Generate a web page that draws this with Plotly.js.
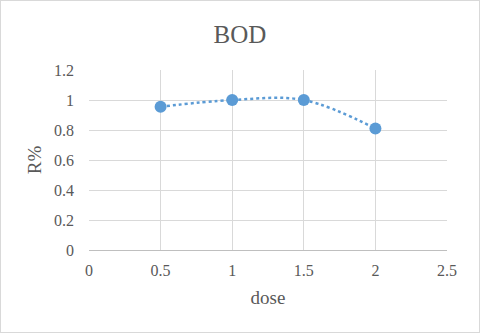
<!DOCTYPE html>
<html>
<head>
<meta charset="utf-8">
<script src="https://cdn.plot.ly/plotly-3.0.1.min.js"></script>
<style>
  body { margin: 0; background: #fff; }
  #chart { width: 478px; height: 331px; border: 1px solid #d9d9d9; }
</style>
</head>
<body>
<div id="chart"></div>
<script>
var dose = [0.5, 1, 1.5, 2];
var removal = [0.955, 1.0, 1.0, 0.81];
var xTicks = [0, 0.5, 1, 1.5, 2, 2.5];
var yTicks = [0, 0.2, 0.4, 0.6, 0.8, 1, 1.2];

var textColor = '#595959';
var gridColor = '#d9d9d9';
var serif = 'Liberation Serif';

var trace = {
    x: dose,
    y: removal,
    mode: 'lines+markers',
    line: { color: '#5b9bd5', width: 2.5, dash: 'dot', shape: 'spline', smoothing: 1 },
    marker: { color: '#5b9bd5', size: 12 },
    hoverinfo: 'none'
};

var layout = {
    width: 478,
    height: 331,
    margin: { l: 88, r: 32, t: 69, b: 82 },
    paper_bgcolor: '#fff',
    plot_bgcolor: '#fff',
    showlegend: false,
    font: { family: serif, color: textColor, size: 16 },
    title: {
        text: 'BOD',
        font: { family: serif, size: 25, color: textColor },
        x: 0.5, xanchor: 'center',
        y: 0.9, yanchor: 'middle', yref: 'container'
    },
    xaxis: {
        range: [0, 2.5],
        tickvals: xTicks,
        ticktext: xTicks.map(String),
        showgrid: true,
        gridcolor: gridColor,
        gridwidth: 1,
        zeroline: false,
        showline: true,
        linecolor: '#bfbfbf',
        linewidth: 1,
        ticks: '',
        ticklabelstandoff: 6,
        tickfont: { family: serif, size: 16, color: textColor },
        title: { text: 'dose', font: { family: serif, size: 19, color: textColor }, standoff: 12 },
        fixedrange: true
    },
    yaxis: {
        range: [0, 1.2],
        tickvals: yTicks,
        ticktext: yTicks.map(String),
        showgrid: true,
        gridcolor: gridColor,
        gridwidth: 1,
        zeroline: false,
        showline: false,
        ticks: '',
        ticklabelstandoff: 14,
        tickfont: { family: serif, size: 16, color: textColor },
        title: { text: 'R%', font: { family: serif, size: 19, color: textColor }, standoff: 7 },
        fixedrange: true
    }
};

Plotly.newPlot('chart', [trace], layout, { displayModeBar: false, staticPlot: true });
</script>
</body>
</html>
